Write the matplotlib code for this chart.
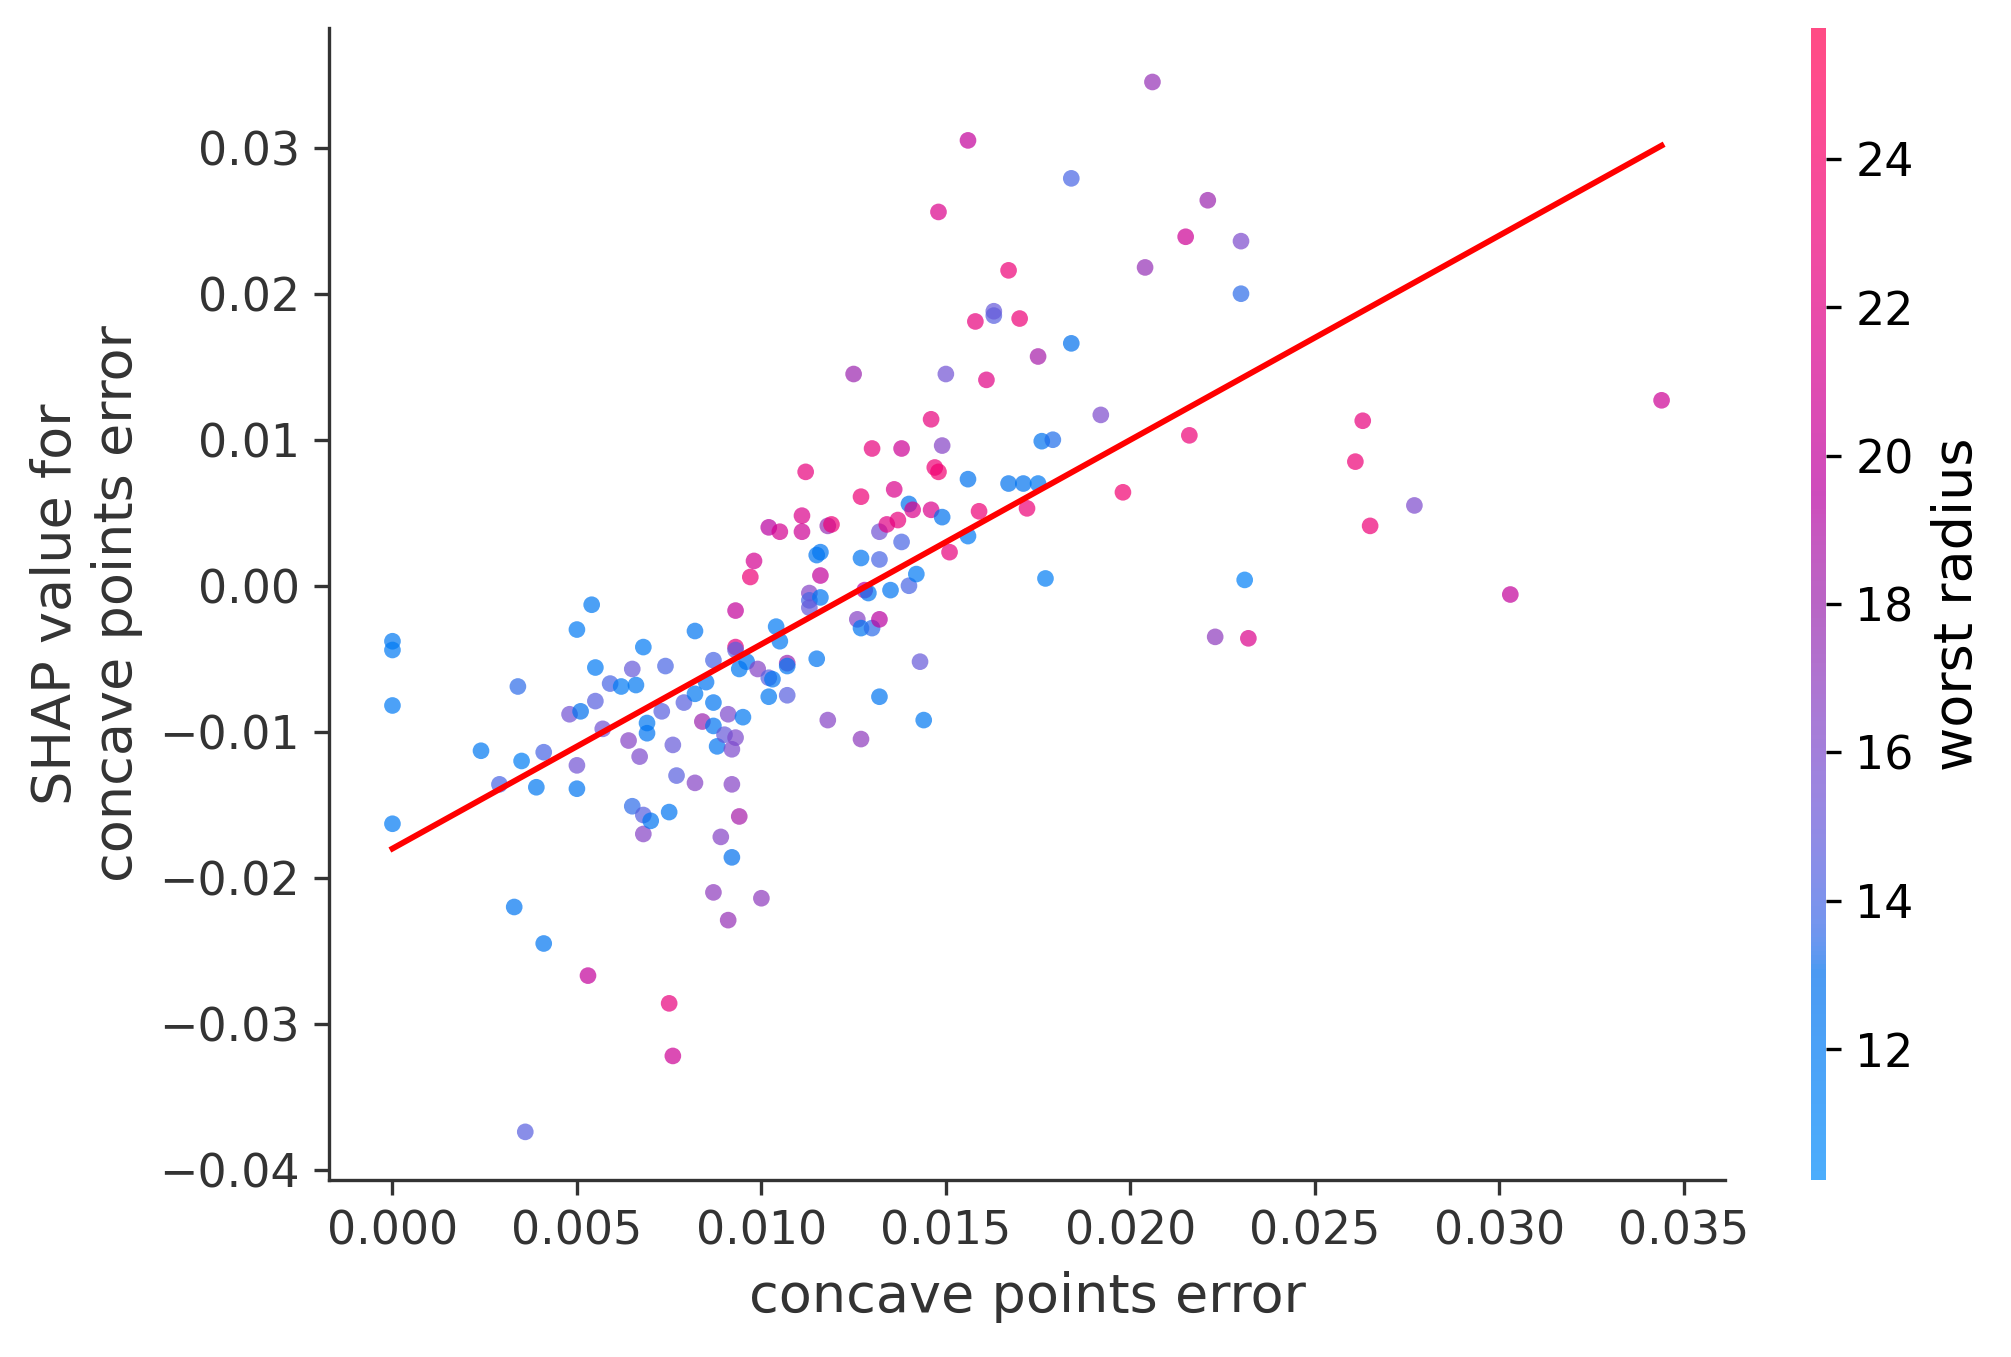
"""SHAP dependence plot: concave points error, coloured by worst radius."""

import matplotlib

matplotlib.use("Agg")
import matplotlib.pyplot as plt
import numpy as np
from matplotlib.colors import LinearSegmentedColormap

# --- data ------------------------------------------------------------------
feature_x = [
    0.0000, 0.0000, 0.0000, 0.0000, 0.0024, 0.0029, 0.0034, 0.0035, 0.0033, 0.0036,
    0.0039, 0.0041, 0.0041, 0.0048, 0.0050, 0.0050, 0.0050, 0.0051, 0.0054, 0.0053,
    0.0055, 0.0055, 0.0057, 0.0059, 0.0062, 0.0066, 0.0065, 0.0064, 0.0065, 0.0067,
    0.0068, 0.0068, 0.0069, 0.0069, 0.0068, 0.0070, 0.0073, 0.0074, 0.0075, 0.0076,
    0.0075, 0.0076, 0.0077, 0.0079, 0.0082, 0.0082, 0.0082, 0.0084, 0.0085, 0.0087,
    0.0087, 0.0087, 0.0087, 0.0088, 0.0089, 0.0090, 0.0091, 0.0100, 0.0091, 0.0092,
    0.0092, 0.0093, 0.0093, 0.0093, 0.0093, 0.0094, 0.0094, 0.0095, 0.0092, 0.0096,
    0.0097, 0.0098, 0.0099, 0.0102, 0.0102, 0.0102, 0.0103, 0.0105, 0.0104, 0.0105,
    0.0107, 0.0107, 0.0107, 0.0111, 0.0111, 0.0112, 0.0115, 0.0116, 0.0115, 0.0113,
    0.0113, 0.0116, 0.0113, 0.0116, 0.0118, 0.0119, 0.0118, 0.0125, 0.0127, 0.0126,
    0.0127, 0.0130, 0.0127, 0.0127, 0.0128, 0.0129, 0.0130, 0.0132, 0.0132, 0.0132,
    0.0132, 0.0134, 0.0135, 0.0136, 0.0137, 0.0138, 0.0138, 0.0140, 0.0140, 0.0141,
    0.0142, 0.0143, 0.0144, 0.0146, 0.0146, 0.0147, 0.0148, 0.0148, 0.0149, 0.0149,
    0.0150, 0.0151, 0.0156, 0.0156, 0.0156, 0.0158, 0.0159, 0.0161, 0.0163, 0.0163,
    0.0167, 0.0167, 0.0170, 0.0171, 0.0172, 0.0175, 0.0175, 0.0184, 0.0176, 0.0179,
    0.0177, 0.0184, 0.0192, 0.0198, 0.0204, 0.0206, 0.0215, 0.0216, 0.0221, 0.0223,
    0.0230, 0.0230, 0.0231, 0.0232, 0.0261, 0.0263, 0.0265, 0.0277, 0.0303, 0.0344,
]
shap_values = [
    -0.0038, -0.0044, -0.0082, -0.0163, -0.0113, -0.0136, -0.0069, -0.0120, -0.0220, -0.0374,
    -0.0138, -0.0114, -0.0245, -0.0088, -0.0030, -0.0123, -0.0139, -0.0086, -0.0013, -0.0267,
    -0.0056, -0.0079, -0.0098, -0.0067, -0.0069, -0.0068, -0.0057, -0.0106, -0.0151, -0.0117,
    -0.0042, -0.0157, -0.0094, -0.0101, -0.0170, -0.0161, -0.0086, -0.0055, -0.0155, -0.0109,
    -0.0286, -0.0322, -0.0130, -0.0080, -0.0031, -0.0074, -0.0135, -0.0093, -0.0066, -0.0080,
    -0.0210, -0.0051, -0.0096, -0.0110, -0.0172, -0.0102, -0.0088, -0.0214, -0.0229, -0.0112,
    -0.0136, -0.0017, -0.0104, -0.0042, -0.0044, -0.0057, -0.0158, -0.0090, -0.0186, -0.0052,
    0.0006, 0.0017, -0.0057, -0.0063, -0.0076, 0.0040, -0.0064, 0.0037, -0.0028, -0.0038,
    -0.0053, -0.0055, -0.0075, 0.0048, 0.0037, 0.0078, 0.0021, 0.0023, -0.0050, -0.0005,
    -0.0010, -0.0008, -0.0015, 0.0007, 0.0041, 0.0042, -0.0092, 0.0145, 0.0019, -0.0023,
    -0.0029, -0.0029, -0.0105, 0.0061, -0.0003, -0.0005, 0.0094, -0.0076, 0.0037, 0.0018,
    -0.0023, 0.0042, -0.0003, 0.0066, 0.0045, 0.0094, 0.0030, 0.0056, 0.0000, 0.0052,
    0.0008, -0.0052, -0.0092, 0.0052, 0.0114, 0.0081, 0.0078, 0.0256, 0.0096, 0.0047,
    0.0145, 0.0023, 0.0073, 0.0034, 0.0305, 0.0181, 0.0051, 0.0141, 0.0185, 0.0188,
    0.0216, 0.0070, 0.0183, 0.0070, 0.0053, 0.0070, 0.0157, 0.0166, 0.0099, 0.0100,
    0.0005, 0.0279, 0.0117, 0.0064, 0.0218, 0.0345, 0.0239, 0.0103, 0.0264, -0.0035,
    0.0236, 0.0200, 0.0004, -0.0036, 0.0085, 0.0113, 0.0041, 0.0055, -0.0006, 0.0127,
]
worst_radius = [
    12.3, 12.0, 12.0, 12.0, 12.3, 14.0, 13.5, 11.8, 12.5, 14.5,
    12.3, 14.0, 12.5, 15.5, 12.0, 15.5, 12.5, 13.0, 12.3, 20.0,
    12.0, 14.5, 15.5, 14.0, 12.0, 12.3, 15.0, 16.5, 13.5, 16.0,
    12.0, 14.5, 12.3, 12.5, 16.5, 12.5, 14.5, 14.0, 12.5, 15.0,
    22.5, 20.5, 14.5, 14.5, 12.5, 12.3, 16.5, 18.0, 12.5, 12.5,
    17.0, 14.0, 12.5, 12.5, 16.5, 15.0, 16.0, 17.0, 17.5, 16.0,
    16.5, 20.0, 16.0, 22.5, 14.5, 12.3, 18.5, 12.3, 13.0, 12.5,
    23.0, 21.0, 16.5, 14.5, 12.3, 19.5, 12.5, 21.0, 12.0, 12.3,
    18.0, 12.5, 14.5, 21.5, 20.5, 22.5, 12.5, 12.5, 12.5, 16.5,
    14.0, 12.5, 15.0, 20.0, 17.5, 23.0, 16.5, 18.0, 12.5, 16.5,
    12.5, 13.5, 17.0, 23.0, 19.5, 12.5, 22.5, 12.5, 15.5, 14.0,
    19.5, 22.0, 12.5, 21.5, 22.5, 20.5, 14.0, 12.8, 14.0, 21.5,
    12.0, 15.0, 12.3, 21.5, 22.5, 23.0, 23.5, 21.5, 16.5, 12.8,
    15.5, 22.5, 12.8, 12.0, 20.0, 22.5, 23.0, 22.0, 14.5, 15.0,
    23.0, 12.8, 23.0, 12.8, 23.0, 12.3, 18.5, 13.0, 12.8, 13.3,
    11.8, 14.0, 16.0, 23.5, 17.5, 17.5, 20.5, 23.0, 18.0, 17.0,
    16.0, 13.5, 11.5, 21.5, 23.0, 22.5, 23.0, 16.0, 20.0, 20.5,
]
# linear fit drawn over the data
fit_intercept = -0.0180
fit_slope = 1.3995
# colour range (5th / 95th percentile of worst radius)
color_low = 10.24
color_high = 25.76

AXIS_COLOR = "#333333"
DPI = 300


def lab_to_rgb(L, a, b):
    # CIE Lab (D65) -> sRGB, clipped to [0, 1]
    fy = (L + 16.0) / 116.0
    fx = a / 500.0 + fy
    fz = fy - b / 200.0
    xyz = []
    for t in (fx, fy, fz):
        xyz.append(t ** 3 if t > 0.2068966 else (t - 16.0 / 116.0) / 7.787)
    X, Y, Z = xyz[0] * 0.95047, xyz[1], xyz[2] * 1.08883
    m = np.array([[3.2406, -1.5372, -0.4986],
                  [-0.9689, 1.8758, 0.0415],
                  [0.0557, -0.2040, 1.0570]])
    lin = m @ np.array([X, Y, Z])
    rgb = np.where(lin > 0.0031308, 1.055 * np.abs(lin) ** (1 / 2.4) - 0.055, 12.92 * lin)
    return np.clip(rgb, 0, 1)


def shap_red_blue():
    # blue -> purple -> red, interpolated in LCH like shap's red_blue map
    blue_lch = [54.0, 70.0, 4.6588]
    red_lch = [54.0, 90.0, 0.35470565 + 2 * np.pi]
    l_mid = 40.0
    n = 100
    ls = list(np.linspace(blue_lch[0], l_mid, n // 2)) + list(np.linspace(l_mid, red_lch[0], n // 2))
    cs = np.linspace(blue_lch[1], red_lch[1], n)
    hs = np.linspace(blue_lch[2], red_lch[2], n)
    colors = [lab_to_rgb(l, c * np.cos(h), c * np.sin(h)) for l, c, h in zip(ls, cs, hs)]
    return LinearSegmentedColormap.from_list("red_blue", colors)


def main() -> None:
    x = np.array(feature_x)
    s = np.array(shap_values)
    c = np.array(worst_radius)

    fig = plt.figure(figsize=(2011 / DPI, 1357 / DPI), dpi=DPI)
    ax = fig.add_axes([0.1636, 0.1304, 0.6942, 0.849])
    cax = fig.add_axes([0.9006, 0.1304, 0.0075, 0.849])

    sc = ax.scatter(x, s, c=c, s=16, cmap=shap_red_blue(), vmin=color_low, vmax=color_high,
                    alpha=0.7, linewidth=0)

    xs = np.array([x.min(), x.max()])
    ax.plot(xs, fit_intercept + fit_slope * xs, color="red", lw=1.4)

    ax.set_xlim(-0.00172, 0.03612)
    ax.set_ylim(-0.0407, 0.0382)
    ax.set_xticks(np.arange(0, 0.0351, 0.005))
    ax.set_yticks(np.arange(-0.04, 0.031, 0.01))
    ax.xaxis.set_major_formatter(plt.FuncFormatter(lambda v, _: f"{v:.3f}".replace("-", "\u2212")))
    ax.yaxis.set_major_formatter(plt.FuncFormatter(lambda v, _: f"{v:.2f}".replace("-", "\u2212")))

    ax.set_xlabel("concave points error", fontsize=13, color=AXIS_COLOR)
    ax.set_ylabel("SHAP value for\nconcave points error", fontsize=13, color=AXIS_COLOR)
    ax.spines["right"].set_visible(False)
    ax.spines["top"].set_visible(False)
    ax.spines["left"].set_color(AXIS_COLOR)
    ax.spines["bottom"].set_color(AXIS_COLOR)
    ax.tick_params(labelsize=11, color=AXIS_COLOR, labelcolor=AXIS_COLOR)

    cb = fig.colorbar(sc, cax=cax)
    cb.set_ticks([12, 14, 16, 18, 20, 22, 24])
    cb.set_label("worst radius", size=13)
    cb.ax.tick_params(labelsize=11)
    cb.outline.set_visible(False)

    fig.savefig("out.png", dpi=DPI)


if __name__ == "__main__":
    main()
